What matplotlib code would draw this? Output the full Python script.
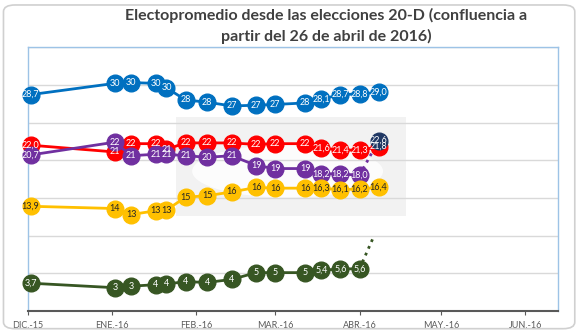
import numpy as np
import matplotlib
matplotlib.use('Agg')
import matplotlib.pyplot as plt
import matplotlib.dates as mdates
from matplotlib.patches import FancyBboxPatch, Rectangle, Ellipse

plt.rcParams['font.family'] = ['Lato', 'DejaVu Sans']

# fechas de cada electopromedio
fechas = np.array(['2015-12-02', '2016-01-02', '2016-01-08', '2016-01-17', '2016-01-21',
                   '2016-01-28', '2016-02-05', '2016-02-14', '2016-02-23', '2016-03-01',
                   '2016-03-12', '2016-03-18', '2016-03-25', '2016-04-01', '2016-04-08'],
                  dtype='datetime64[D]')

# PP (azul)
pp = [28.7, 30.2, 30.3, 30.2, 29.6, 28.0, 27.7, 27.2, 27.3, 27.4, 27.6, 28.1, 28.7, 28.8, 29.0]
pp_lab = ['28,7', '30', '30', '30', '30', '28', '28', '27', '27', '27', '28', '28,1', '28,7', '28,8', '29,0']

# PSOE (rojo)
psoe = [22.0, 21.1, 22.2, 22.2, 21.45, 22.3, 22.3, 22.3, 22.1, 22.2, 22.2, 21.6, 21.4, 21.3, 21.8]
psoe_lab = ['22,0', '21', '22', '22', '21', '22', '22', '22', '22', '22', '22', '21,6', '21,4', '21,3', '21,8']

# Podemos (morado), hasta abril
pod = [20.7, 22.4, 20.6, 20.8, 20.8, 20.6, 20.4, 20.6, 19.3, 18.9, 18.9, 18.2, 18.2, 18.0]
pod_lab = ['20,7', '22', '21', '21', '21', '21', '20', '21', '19', '19', '19', '18,2', '18,2', '18,0']

# confluencia
conf = [22.6]
conf_lab = ['22,6']

# Ciudadanos (amarillo)
cs = [13.9, 13.6, 12.8, 13.3, 13.4, 15.1, 15.3, 15.8, 16.4, 16.3, 16.3, 16.3, 16.1, 16.2, 16.4]
cs_lab = ['13,9', '14', '13', '13', '13', '15', '15', '16', '16', '16', '16', '16,3', '16,1', '16,2', '16,4']

# IU (verde), hasta abril
iu = [3.7, 3.1, 3.3, 3.5, 3.6, 3.9, 3.8, 4.2, 5.1, 5.1, 5.1, 5.4, 5.6, 5.6]
iu_lab = ['3,7', '3', '3', '4', '4', '4', '4', '4', '5', '5', '5', '5,4', '5,6', '5,6']
iu_fin_fecha = np.datetime64('2016-04-06')
iu_fin = 9.7

meses = np.array(['2015-12-01', '2016-01-01', '2016-02-01', '2016-03-01',
                  '2016-04-01', '2016-05-01', '2016-06-01'], dtype='datetime64[D]')
meses_lab = ['DIC.-15', 'ENE.-16', 'FEB.-16', 'MAR.-16', 'ABR.-16', 'MAY.-16', 'JUN.-16']

x = mdates.date2num(fechas)
xm = mdates.date2num(meses)
x_end = mdates.date2num(iu_fin_fecha)

fig = plt.figure(figsize=(5.8, 3.32), dpi=100)
ax = fig.add_axes([0.048, 0.063, 0.914, 0.795])

# borde redondeado del grafico
fig.patches.append(FancyBboxPatch((0.006, 0.01), 0.985, 0.975, boxstyle='round,pad=0,rounding_size=0.02',
                                  transform=fig.transFigure, fill=False, ec='#D0D0D0', lw=1.2))

# marca de agua
ax.add_patch(Rectangle((0.279, 0.36), 0.434, 0.375, transform=ax.transAxes,
                       fc='#F2F2F2', ec='none', zorder=0.1))
ax.add_patch(Ellipse((0.49, 0.53), 0.36, 0.2, transform=ax.transAxes,
                     fc='white', ec='none', alpha=0.8, zorder=0.2))

ms = 12
lw = 2

def serie(xs, ys, labs, col, tcol):
    ax.plot(xs, ys, '-', color=col, lw=lw, marker='o', ms=ms, mec=col, zorder=3, clip_on=False)
    for xx, yy, s in zip(xs, ys, labs):
        ax.text(xx, yy, s, ha='center', va='center', fontsize=6.5, color=tcol, zorder=10, clip_on=False)

serie(x, pp, pp_lab, '#0070C0', 'white')
serie(x, psoe, psoe_lab, '#FF0000', 'white')
serie(x[:len(pod)], pod, pod_lab, '#7030A0', 'white')
ax.plot([x[len(pod) - 1], x[-1]], [pod[-1], conf[0]], ':', color='#7030A0', lw=lw, zorder=2)
serie(x[-1:], conf, conf_lab, '#203864', 'white')
serie(x, cs, cs_lab, '#FFC000', '#262626')
serie(x[:len(iu)], iu, iu_lab, '#375623', 'white')
ax.plot([x[len(iu) - 1], x_end], [iu[-1], iu_fin], ':', color='#375623', lw=lw, zorder=2)

ax.set_xlim(mdates.date2num(np.datetime64('2015-12-01')), mdates.date2num(np.datetime64('2016-06-13')))
ax.set_ylim(0, 35)
ax.set_yticks(np.arange(0, 36, 5))
ax.set_yticklabels([])
ax.tick_params(axis='y', length=0)
ax.set_axisbelow(True)
ax.grid(axis='y', color='#D9D9D9', lw=1)

ax.set_xticks(xm)
ax.set_xticklabels(meses_lab)
ax.tick_params(axis='x', direction='out', length=3, color='#595959', labelsize=6.5,
               labelcolor='#595959', pad=4)

for s in ['left', 'top', 'right']:
    ax.spines[s].set_color('#9DC3E6')
    ax.spines[s].set_linewidth(1)
ax.spines['bottom'].set_color('#595959')
ax.spines['bottom'].set_linewidth(1.5)

fig.text(0.562, 0.952, 'Electopromedio desde las elecciones 20-D (confluencia a',
         ha='center', va='center', fontsize=11.5, fontweight='bold', color='#404040')
fig.text(0.562, 0.889, 'partir del 26 de abril de 2016)',
         ha='center', va='center', fontsize=11.5, fontweight='bold', color='#404040')

fig.savefig('out.png', dpi=100)
